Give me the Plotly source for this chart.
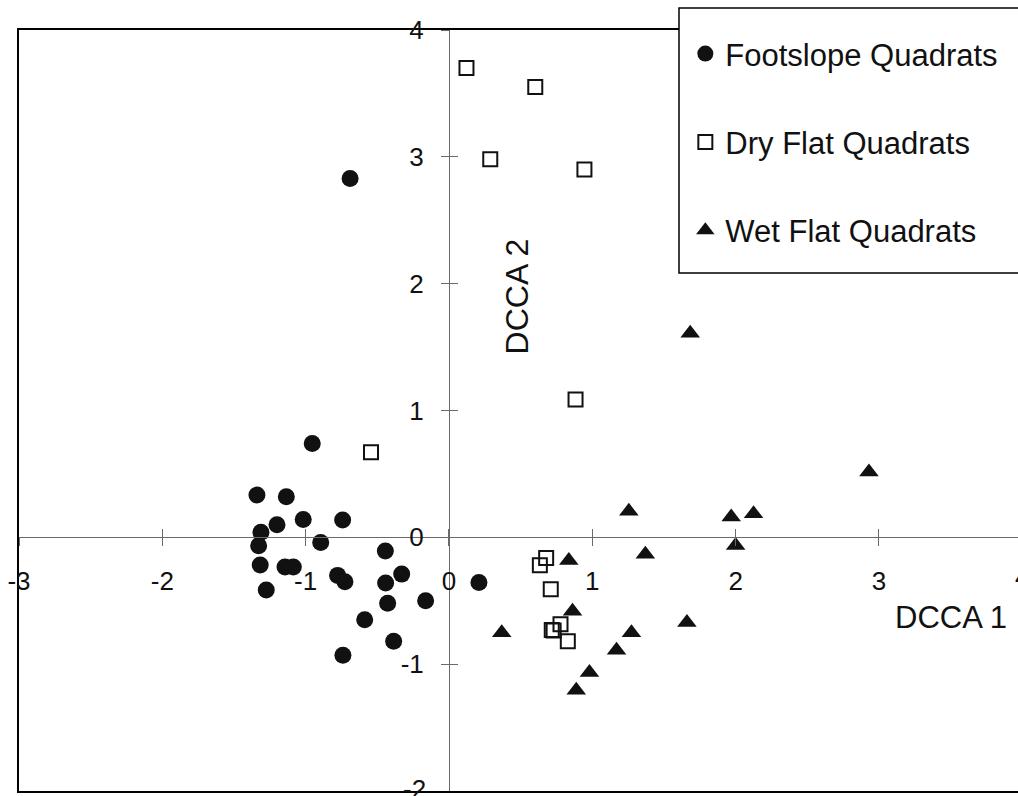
import plotly.graph_objects as go

# ---- data ----
foot_x = [-0.69, -0.954, -1.34, -1.135, -1.20, -1.017, -0.742, -1.312, -1.328, -0.895,
          -0.444, -1.317, -1.144, -1.086, -0.777, -0.726, -0.33, -0.442, -1.275, -0.428,
          -0.163, -0.588, -0.386, -0.74, 0.209]
foot_y = [2.83, 0.74, 0.333, 0.32, 0.10, 0.14, 0.136, 0.04, -0.066, -0.04,
          -0.108, -0.218, -0.234, -0.234, -0.30, -0.35, -0.29, -0.36, -0.415, -0.52,
          -0.50, -0.65, -0.82, -0.93, -0.357]

dry_x = [0.122, 0.602, 0.288, 0.945, 0.883, -0.544, 0.678, 0.634, 0.71, 0.778, 0.717, 0.73, 0.829]
dry_y = [3.70, 3.55, 2.98, 2.90, 1.087, 0.67, -0.163, -0.22, -0.41, -0.685, -0.73, -0.735, -0.82]

wet_x = [1.683, 2.93, 1.255, 1.969, 2.125, 2.0, 1.37, 0.836, 0.862, 0.368, 1.273, 1.66, 1.169, 0.98, 0.888]
wet_y = [1.61, 0.515, 0.205, 0.16, 0.185, -0.065, -0.133, -0.183, -0.582, -0.753, -0.753, -0.671,
         -0.891, -1.065, -1.205]

series_names = ["Footslope Quadrats", "Dry Flat Quadrats", "Wet Flat Quadrats"]
x_ticks = [-3, -2, -1, 0, 1, 2, 3]
y_ticks = [-1, 0, 1, 2, 3, 4]
x_range = [-3, 3.970]
y_range = [-2, 4]

FONT = "Liberation Sans, Arial, Helvetica, sans-serif"
INK = "#111111"
AXC = "#6a6a6a"

fig = go.Figure()
fig.add_trace(go.Scatter(x=foot_x, y=foot_y, mode="markers", name=series_names[0],
                         legendgroup="a",
                         marker=dict(symbol="circle", size=17, color=INK)))
fig.add_trace(go.Scatter(x=dry_x, y=dry_y, mode="markers", name=series_names[1],
                         legendgroup="b",
                         marker=dict(symbol="square-open", size=14, color=INK,
                                     line=dict(width=2, color=INK))))
fig.add_trace(go.Scatter(x=wet_x, y=wet_y, mode="markers", name=series_names[2],
                         legendgroup="c",
                         marker=dict(symbol="triangle-up", size=17, color=INK)))

# invisible anchors so the crossing axes through the origin get drawn
for ax_x, ax_y in (("x2", "y2"), ("x3", "y3")):
    fig.add_trace(go.Scatter(x=[0], y=[0], xaxis=ax_x, yaxis=ax_y, mode="markers",
                             marker=dict(opacity=0), showlegend=False, hoverinfo="skip"))

x0_frac = (0 - y_range[0]) / (y_range[1] - y_range[0])   # paper y of data y=0
y0_frac = (0 - x_range[0]) / (x_range[1] - x_range[0])   # paper x of data x=0

fig.update_layout(
    width=1018, height=796,
    margin=dict(l=19, r=0, t=30, b=5),
    paper_bgcolor="white", plot_bgcolor="white",
    font=dict(family=FONT, color=INK),
    showlegend=True,
    legend=dict(x=0.667, y=1.004, xanchor="left", yanchor="top",
                bgcolor="rgba(0,0,0,0)", borderwidth=0,
                font=dict(size=31, family=FONT, color=INK),
                tracegroupgap=45),
    xaxis=dict(range=x_range, showline=True, mirror=True, linecolor="black", linewidth=2,
               showgrid=False, zeroline=False, showticklabels=False, ticks=""),
    yaxis=dict(range=y_range, showline=True, mirror=False, linecolor="black", linewidth=2,
               showgrid=False, zeroline=False, showticklabels=False, ticks=""),
    xaxis2=dict(range=x_range, overlaying="x", anchor="free", position=x0_frac, side="bottom",
                showline=True, linecolor=AXC, linewidth=1, showgrid=False, zeroline=False,
                tickvals=x_ticks, ticktext=[str(v) for v in x_ticks],
                ticks="outside", ticklen=8, tickcolor=AXC, tickwidth=1,
                ticklabelstandoff=12, tickfont=dict(size=26, family=FONT, color=INK)),
    xaxis3=dict(range=x_range, overlaying="x", anchor="free", position=x0_frac, side="bottom",
                showline=False, showgrid=False, zeroline=False, tickvals=x_ticks,
                ticks="inside", ticklen=8, tickcolor=AXC, tickwidth=1, showticklabels=False),
    yaxis2=dict(range=y_range, overlaying="y", anchor="free", position=y0_frac, side="left",
                showline=True, linecolor=AXC, linewidth=1, showgrid=False, zeroline=False,
                tickvals=y_ticks, ticktext=[str(v) for v in y_ticks],
                ticks="outside", ticklen=8, tickcolor=AXC, tickwidth=1,
                ticklabelstandoff=12, tickfont=dict(size=26, family=FONT, color=INK)),
    yaxis3=dict(range=y_range, overlaying="y", anchor="free", position=y0_frac, side="left",
                showline=False, showgrid=False, zeroline=False, tickvals=y_ticks,
                ticks="inside", ticklen=8, tickcolor=AXC, tickwidth=1, showticklabels=False),
)

# legend box (extends past the right edge like the reference)
fig.add_shape(type="rect", xref="paper", yref="paper",
              x0=(679 - 19) / 999, x1=1.05, y0=(791 - 273) / 761, y1=(791 - 8) / 761,
              line=dict(color="black", width=1.5), fillcolor="white", layer="above")

# tick labels that sit on the page edges (partly cut off, as in the reference)
fig.add_annotation(xref="paper", yref="paper", x=(4 - x_range[0]) / (x_range[1] - x_range[0]),
                   y=x0_frac, yshift=-40, text="4", showarrow=False,
                   xanchor="center", yanchor="middle", font=dict(size=26, family=FONT, color=INK))
fig.add_annotation(xref="paper", yref="paper", x=y0_frac, y=0, xshift=-21, yshift=2,
                   text=str(y_range[0]), showarrow=False,
                   xanchor="right", yanchor="middle", font=dict(size=26, family=FONT, color=INK))

# axis titles
fig.add_annotation(x=3.5, y=-0.63, xref="x", yref="y", text="DCCA 1", showarrow=False,
                   xanchor="center", yanchor="middle", font=dict(size=31, family=FONT, color=INK))
fig.add_annotation(x=0.475, y=1.90, xref="x", yref="y", text="DCCA 2", showarrow=False,
                   textangle=-90, xanchor="center", yanchor="middle",
                   font=dict(size=32, family=FONT, color=INK))

fig.write_html("out.html", config={"displayModeBar": False},
               post_script="document.body.style.margin='0';document.body.style.overflow='hidden';")
